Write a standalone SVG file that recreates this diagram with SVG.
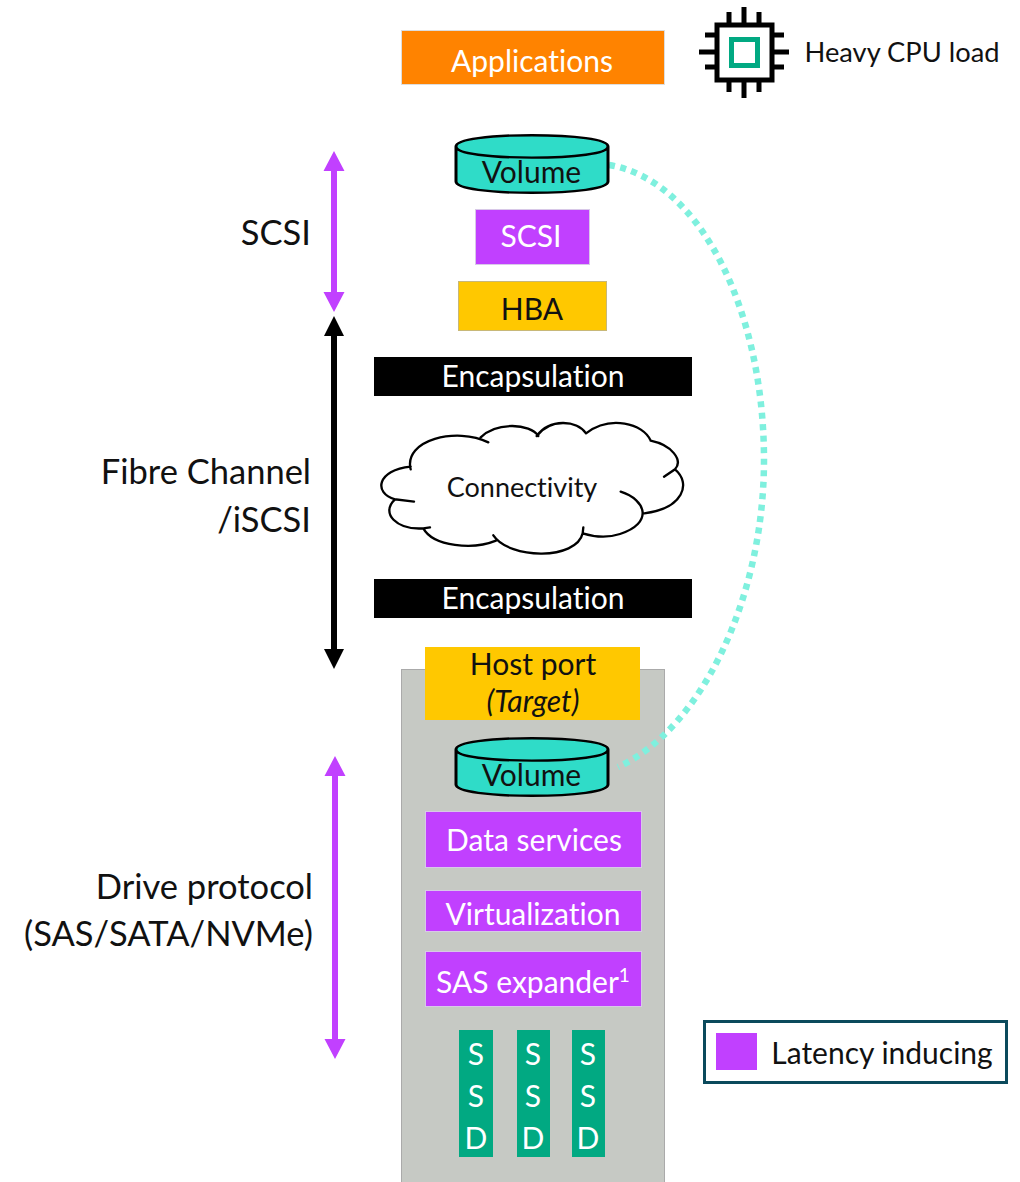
<svg xmlns="http://www.w3.org/2000/svg" width="1020" height="1182" viewBox="0 0 1020 1182">
<style>
text{font-family:"Lato","Open Sans",sans-serif;text-anchor:middle;fill:#111;font-variant-ligatures:none}
.w{fill:#fff}
.l{font-size:34.500px;text-anchor:end}
.m{font-size:30px}
.p{fill:#c140ff;stroke:#d8c8e8;stroke-width:1}
.y{fill:#ffc800;stroke:#c8b878;stroke-width:1}
.k{fill:#000}
.g{fill:#01a982}
.cyl{fill:#2fdcc8;stroke:#000;stroke-width:3}
.s{font-size:30px;fill:#fff}
</style>
<defs>
<path id="cyl" d="M-76 -22V22C-76 31 -42 36 0 36S76 31 76 22V-22C76 -31 42 -36 0 -36S-76 -31 -76 -22C-76 -13 -42 -8 0 -8S76 -13 76 -22" class="cyl" stroke-linejoin="round"/>
</defs>
<g id="rack"><rect x="401.500" y="669.500" width="263" height="513" fill="#c6c9c4" stroke="#aaa"/></g>
<g id="connectors">
<path d="M609 165C700 180 764 310 764 460C764 600 700 730 618 767" fill="none" stroke="#7ff0de" stroke-width="6.500" stroke-dasharray="6 5.500"/>
<path d="M334 168V295" stroke="#c140ff" stroke-width="6"/><path d="M334 151l10.500 20h-21zM334 312l10.500 -20h-21z" fill="#c140ff"/>
<path d="M334 332V652" stroke="#000" stroke-width="6"/><path d="M334 316l10 20h-20zM334 669l10 -20h-20z" fill="#000"/>
<path d="M335 773V1042" stroke="#c140ff" stroke-width="6"/><path d="M335 756l10.500 20h-21zM335 1059l10.500 -20h-21z" fill="#c140ff"/>
</g>
<g id="applications"><rect x="401.500" y="30.500" width="263" height="54" fill="#ff8300" stroke="#ddd"/><text class="m w" x="532" y="72">Applications</text></g>
<g id="cpu" fill="none" stroke="#000">
<rect x="717" y="25" width="55" height="55" stroke-width="5" fill="#fff"/>
<rect x="731.500" y="39.500" width="26" height="26" stroke="#01a982" stroke-width="5"/>
<path stroke-width="5" d="M729 12V25M744 7V25M759 12V25M729 80V92M744 80V98M759 80V92M705 35H717M699 52H717M705 67H717M772 35H784M772 52H789M772 67H784"/>
</g>
<g id="cpu-label"><text x="902" y="62" font-size="27.300">Heavy CPU load</text></g>
<g id="volume-top"><use href="#cyl" transform="translate(532 164) scale(1 .8)"/><text class="m" x="531.500" y="183">Volume</text></g>
<g id="scsi"><rect class="p" x="475.500" y="209.500" width="114" height="55"/><text class="m w" x="531" y="247">SCSI</text></g>
<g id="hba"><rect class="y" x="458.500" y="281.500" width="148" height="49"/><text class="m" x="532" y="320">HBA</text></g>
<g id="encap-top"><rect class="k" x="374" y="357" width="318" height="39"/><text class="m w" x="533" y="387">Encapsulation</text></g>
<g id="cloud"><g transform="translate(360 410) scale(.33333)">
<path fill="#fff" d="M150 178C140 90 290 50 385 97L362 80C420 30 510 40 533 78C570 30 650 30 680 70C750 15 850 40 870 92C930 100 970 150 945 178C985 210 980 290 853 310C850 350 760 400 668 370C640 440 460 460 402 378C340 420 220 410 190 355C110 360 60 310 105 268C40 250 50 180 150 178Z"/>
<path fill="none" stroke="#000" stroke-width="7" stroke-linecap="round" d="M152 178C130 90 290 50 385 97M362 82C410 35 510 40 535 78M530 78C570 25 650 30 678 70M678 70C750 15 850 40 872 92C935 105 970 150 945 178L912 200M945 178C995 220 970 295 853 310M782 245C860 270 880 340 780 372C740 385 700 380 668 370L670 352M668 370C650 450 450 450 400 376M408 392C340 420 220 410 190 355L210 352M190 355C110 360 60 310 105 268L162 275M105 268C40 250 50 180 152 170"/>
</g><text x="522" y="497" font-size="27">Connectivity</text></g>
<g id="encap-bottom"><rect class="k" x="374" y="579" width="318" height="39"/><text class="m w" x="533" y="609">Encapsulation</text></g>
<g id="host-port"><rect x="425" y="647" width="215" height="73" fill="#ffc800"/><text class="m" x="533" y="675">Host port</text><text x="533" y="712" font-size="30" font-style="italic">(Target)</text></g>
<g id="volume-bottom"><use href="#cyl" transform="translate(532 767) scale(1 .8)"/><text class="m" x="531.500" y="786">Volume</text></g>
<g id="data-services"><rect class="p" x="425.500" y="811.500" width="216" height="56"/><text class="m w" x="534" y="851">Data services</text></g>
<g id="virtualization"><rect class="p" x="425.500" y="890.500" width="216" height="41"/><text class="m w" x="533" y="925">Virtualization</text></g>
<g id="sas-expander"><rect class="p" x="425.500" y="951.500" width="216" height="55"/><text class="m w" x="533" y="993">SAS expander<tspan font-size="19" dy="-11">1</tspan></text></g>
<g id="ssd1"><rect class="g" x="459" y="1030" width="34" height="127"/><text class="s" x="476" y="1065">S</text><text class="s" x="476" y="1107">S</text><text class="s" x="476" y="1149">D</text></g>
<g id="ssd2"><rect class="g" x="517" y="1030" width="33" height="127"/><text class="s" x="533" y="1065">S</text><text class="s" x="533" y="1107">S</text><text class="s" x="533" y="1149">D</text></g>
<g id="ssd3"><rect class="g" x="572" y="1030" width="33" height="127"/><text class="s" x="588" y="1065">S</text><text class="s" x="588" y="1107">S</text><text class="s" x="588" y="1149">D</text></g>
<g id="labels"><text class="l" x="311" y="245">SCSI</text><text class="l" x="311" y="484">Fibre Channel</text><text class="l" x="311" y="532">/iSCSI</text><text class="l" x="313" y="899">Drive protocol</text><text class="l" x="313" y="946">(SAS/SATA/NVMe)</text></g>
<g id="legend"><rect x="704.500" y="1021.500" width="302" height="61" fill="#fff" stroke="#0b4a5c" stroke-width="3"/><rect x="716" y="1033" width="41" height="37" fill="#c140ff"/><text x="882" y="1064" font-size="30">Latency inducing</text></g>
</svg>
